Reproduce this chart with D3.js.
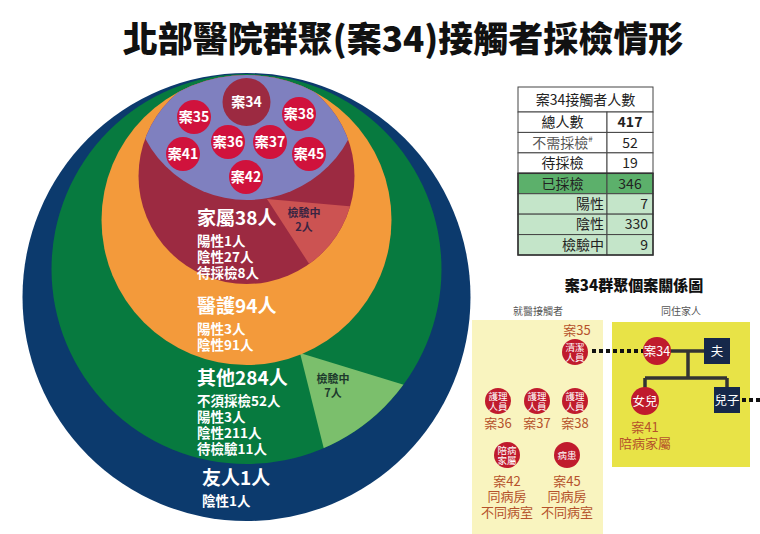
<!DOCTYPE html>
<html>
<head>
<meta charset="utf-8">
<script src="https://cdn.jsdelivr.net/npm/d3@7"></script>
<style>
  body { margin: 0; background: #fff; }
  svg text { font-family: "Noto Sans CJK TC", "Noto Sans", sans-serif; }
</style>
</head>
<body>
<script>
const TITLE = "北部醫院群聚(案34)接觸者採檢情形";

// contact groups, inner ring to outer ring
const groupNames = ["家屬", "醫護", "其他", "友人"];
const groupCounts = [38, 94, 284, 1];
const groupDetails = [
    ["陽性1人", "陰性27人", "待採檢8人"],
    ["陽性3人", "陰性91人"],
    ["不須採檢52人", "陽性3人", "陰性211人", "待檢驗11人"],
    ["陰性1人"]
];
const testingCounts = [2, 0, 7, 0]; // 檢驗中

const clusterCases = ["案34", "案35", "案38", "案36", "案37", "案41", "案45", "案42"];

const tableTitle = "案34接觸者人數";
const tableLabels = ["總人數", "不需採檢", "待採檢", "已採檢", "陽性", "陰性", "檢驗中"];
const tableValues = [417, 52, 19, 346, 7, 330, 9];

const diagramTitle = "案34群聚個案關係圖";
const hospitalCases = ["案35", "案36", "案37", "案38", "案42", "案45"];
const hospitalRoles = [["清潔", "人員"], ["護理", "人員"], ["護理", "人員"], ["護理", "人員"], ["陪病", "家屬"], ["病患"]];
const hospitalNotes = [[], [], [], [], ["同病房", "不同病室"], ["同病房", "不同病室"]];
const familyMembers = ["案34", "夫", "女兒", "兒子"];
const daughterNotes = ["案41", "陪病家屬"];

// ---- layout (not data) ----
const W = 760, H = 534;
const CX = 246.5;
const ringR = [108, 145, 195, 224];
const ringTop = [68, 75, 74, 73];
const ringColor = ["#9c2a41", "#f39a3b", "#077a3f", "#0c3a6d"];
const wedgeColor = ["#cc5352", null, "#7bbf6c", null];
const wedgeApex = [[267, 199], null, [300, 353], null];
const wedgeAngles = [[5, 57], null, [17, 76], null];
const testingPos = [[304, 217], null, [333, 383], null];
const namePos = [[197, 225], [197, 313], [197, 385], [202, 485]];
const purple = { cx: 247, cy: 85, r: 115, color: "#7f80bf" };
const casePos = [[246.5, 102], [194, 117], [299, 114], [228, 142], [270, 142], [183, 154], [309, 154], [246, 177]];

const svg = d3.select("body").append("svg")
    .attr("width", W)
    .attr("height", H);

const defs = svg.append("defs");

svg.append("text")
    .attr("x", 403).attr("y", 52)
    .attr("text-anchor", "middle")
    .attr("font-size", 35).attr("font-weight", 900)
    .attr("fill", "#111")
    .text(TITLE);

// ---- concentric rings ----
const ringCY = ringR.map((r, i) => ringTop[i] + r);

ringR.forEach((r, i) => {
    defs.append("clipPath").attr("id", "ring" + i)
        .append("circle").attr("cx", CX).attr("cy", ringCY[i]).attr("r", r);
});

const line = d3.line();
function wedge(i) {
    const [ax, ay] = wedgeApex[i];
    const pts = [[ax, ay]];
    wedgeAngles[i].forEach(a => {
        const t = a * Math.PI / 180;
        pts.push([ax + 400 * Math.cos(t), ay + 400 * Math.sin(t)]);
    });
    return line(pts) + "Z";
}

const rings = svg.append("g");
for (let i = ringR.length - 1; i >= 0; i--) {
    let g = rings;
    if (i === 0) g = rings.append("g").attr("clip-path", "url(#ring1)");
    g.append("circle")
        .attr("cx", CX).attr("cy", ringCY[i]).attr("r", ringR[i])
        .attr("fill", ringColor[i]);
    if (testingCounts[i] > 0) {
        g.append("path")
            .attr("d", wedge(i))
            .attr("fill", wedgeColor[i])
            .attr("clip-path", "url(#ring" + i + ")");
    }
    if (i === 0) {
        g.append("g").attr("clip-path", "url(#ring0)")
            .append("circle")
            .attr("cx", purple.cx).attr("cy", purple.cy).attr("r", purple.r)
            .attr("fill", purple.color);
    }
}

// cluster cases inside the purple area
clusterCases.forEach((c, i) => {
    const [x, y] = casePos[i];
    const big = i === 0;
    rings.append("circle")
        .attr("cx", x).attr("cy", y).attr("r", big ? 24 : 17)
        .attr("fill", big ? "#9c2a41" : "#d0123c");
    rings.append("text")
        .attr("x", x).attr("y", y + 5)
        .attr("text-anchor", "middle")
        .attr("font-size", 14).attr("font-weight", 700)
        .attr("fill", "#fff")
        .text(c);
});

// group labels
groupNames.forEach((name, i) => {
    const [x, y] = namePos[i];
    svg.append("text")
        .attr("x", x).attr("y", y)
        .attr("font-size", 19).attr("font-weight", 700)
        .attr("fill", "#fff")
        .text(name + groupCounts[i] + "人");
    groupDetails[i].forEach((d, j) => {
        svg.append("text")
            .attr("x", x).attr("y", y + 21 + j * 16)
            .attr("font-size", 13.5).attr("font-weight", 700)
            .attr("fill", "#fff")
            .text(d);
    });
    if (testingCounts[i] > 0) {
        const [tx, ty] = testingPos[i];
        const t = svg.append("text")
            .attr("text-anchor", "middle")
            .attr("font-size", 11).attr("font-weight", 700)
            .attr("fill", i === 0 ? "#3a2442" : "#1d3a2c");
        t.append("tspan").attr("x", tx).attr("y", ty).text("檢驗中");
        t.append("tspan").attr("x", tx).attr("y", ty + 14).text(testingCounts[i] + "人");
    }
});

// ---- table ----
const tx0 = 518, txs = 607, tx1 = 653;
const table = svg.append("g")
    .style("font-family", '"Liberation Sans", "Noto Sans CJK TC", sans-serif');

const rowY = d3.scaleBand().domain(tableLabels).range([112, 255]);

table.append("rect")
    .attr("x", tx0).attr("y", 87).attr("width", tx1 - tx0).attr("height", 25)
    .attr("fill", "#fff").attr("stroke", "#444");
table.append("text")
    .attr("x", (tx0 + tx1) / 2).attr("y", 105)
    .attr("text-anchor", "middle").attr("font-size", 14).attr("fill", "#222")
    .text(tableTitle);

tableLabels.forEach((label, i) => {
    const y = rowY(label), h = rowY.bandwidth();
    const fill = i === 3 ? "#5cb06b" : i > 3 ? "#c4e5c9" : "#fff";
    table.append("rect").attr("x", tx0).attr("y", y).attr("width", txs - tx0).attr("height", h)
        .attr("fill", fill).attr("stroke", "#444");
    table.append("rect").attr("x", txs).attr("y", y).attr("width", tx1 - txs).attr("height", h)
        .attr("fill", fill).attr("stroke", "#444");
    const right = i > 3;
    const lt = table.append("text")
        .attr("x", right ? txs - 3 : (tx0 + txs) / 2)
        .attr("y", y + h / 2 + 5)
        .attr("text-anchor", right ? "end" : "middle")
        .attr("font-size", 14)
        .attr("fill", i === 1 ? "#555" : "#222")
        .text(label);
    if (i === 1) lt.append("tspan").attr("font-size", 8).attr("dy", -6).text("#");
    table.append("text")
        .attr("x", right ? tx1 - 5 : (txs + tx1) / 2)
        .attr("y", y + h / 2 + 5)
        .attr("text-anchor", right ? "end" : "middle")
        .attr("font-size", 14)
        .attr("font-weight", i === 0 ? 700 : 400)
        .attr("fill", "#222")
        .text(tableValues[i]);
});
table.append("rect")
    .attr("x", tx0).attr("y", rowY("已採檢")).attr("width", tx1 - tx0)
    .attr("height", 255 - rowY("已採檢"))
    .attr("fill", "none").attr("stroke", "#333").attr("stroke-width", 1.5);

// ---- relationship diagram ----
const dg = svg.append("g");
const brown = "#b5522b", nodeRed = "#c01b2d", navy = "#16284a";

dg.append("text").attr("x", 634).attr("y", 291).attr("text-anchor", "middle")
    .attr("font-size", 15).attr("font-weight", 900).attr("fill", "#111")
    .text(diagramTitle);

dg.append("rect").attr("x", 472).attr("y", 320).attr("width", 131).attr("height", 214).attr("fill", "#f9f4bf");
dg.append("rect").attr("x", 612).attr("y", 322).attr("width", 138).attr("height", 145).attr("fill", "#e8e347");

dg.append("text").attr("x", 538).attr("y", 315).attr("text-anchor", "middle")
    .attr("font-size", 10).attr("fill", "#555").text("就醫接觸者");
dg.append("text").attr("x", 681).attr("y", 315).attr("text-anchor", "middle")
    .attr("font-size", 10).attr("fill", "#555").text("同住家人");

const hospPos = [[575, 352], [498, 401], [537, 401], [575, 401], [507, 455], [567, 455]];
const famPos = [[657, 351], [717, 351], [645, 401], [727, 400]];

// family tree lines
const treeLines = [
    [famPos[0], famPos[1]],
    [[688, famPos[0][1]], [688, 378]],
    [[famPos[2][0], 378], [famPos[3][0], 378]],
    [[famPos[2][0], 378], famPos[2]],
    [[famPos[3][0], 378], famPos[3]]
];
treeLines.forEach(l => {
    dg.append("path").attr("d", line(l)).attr("stroke", "#333").attr("stroke-width", 3.5).attr("fill", "none");
});
dg.append("path").attr("d", line([[592, 351], [644, 351]]))
    .attr("stroke", "#111").attr("stroke-width", 4).attr("stroke-dasharray", "4,3");
dg.append("path").attr("d", line([[742, 400], [760, 400]]))
    .attr("stroke", "#111").attr("stroke-width", 4).attr("stroke-dasharray", "4,3");

hospitalCases.forEach((c, i) => {
    const [x, y] = hospPos[i];
    dg.append("circle").attr("cx", x).attr("cy", y).attr("r", 13).attr("fill", nodeRed);
    const role = hospitalRoles[i];
    role.forEach((r, j) => {
        dg.append("text").attr("x", x).attr("y", y + (role.length === 1 ? 3.5 : j * 10 - 1.5))
            .attr("text-anchor", "middle").attr("font-size", 9.5).attr("fill", "#fff").text(r);
    });
    const labelY = i === 0 ? y - 17 : i < 4 ? y + 27 : y + 31;
    dg.append("text").attr("x", i === 0 ? x + 2 : x).attr("y", labelY)
        .attr("text-anchor", "middle").attr("font-size", 13).attr("fill", brown).text(c);
    hospitalNotes[i].forEach((n, j) => {
        dg.append("text").attr("x", x).attr("y", y + 46 + j * 15.5)
            .attr("text-anchor", "middle").attr("font-size", 13).attr("fill", brown).text(n);
    });
});

familyMembers.forEach((m, i) => {
    const [x, y] = famPos[i];
    if (i === 0 || i === 2) {
        dg.append("circle").attr("cx", x).attr("cy", y).attr("r", 14).attr("fill", nodeRed);
    } else {
        dg.append("rect").attr("x", x - 13).attr("y", y - 13).attr("width", 26).attr("height", 26).attr("fill", navy);
    }
    dg.append("text").attr("x", x).attr("y", y + 4.5)
        .attr("text-anchor", "middle").attr("font-size", 12.5).attr("fill", "#fff").text(m);
});
daughterNotes.forEach((n, j) => {
    dg.append("text").attr("x", famPos[2][0]).attr("y", 432 + j * 16)
        .attr("text-anchor", "middle").attr("font-size", 13).attr("fill", brown).text(n);
});
</script>
</body>
</html>
